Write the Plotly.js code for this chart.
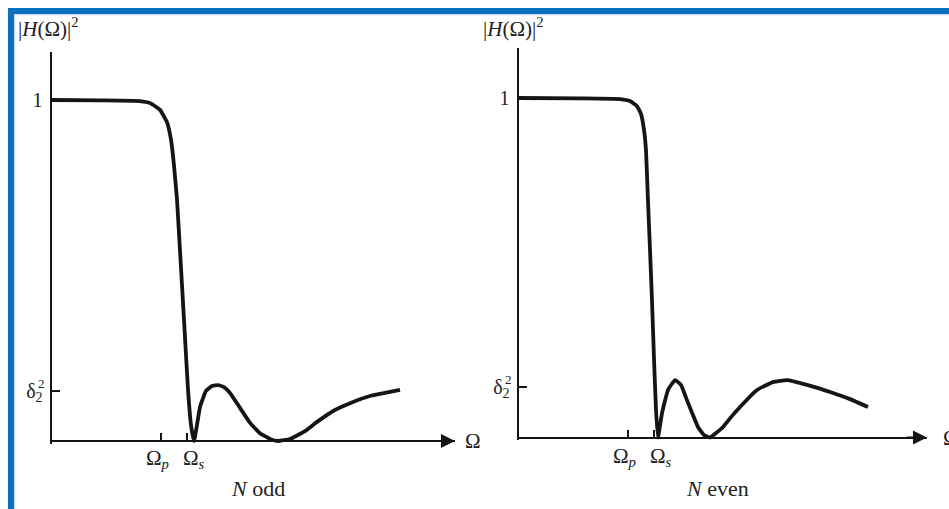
<!DOCTYPE html>
<html>
<head>
<meta charset="utf-8">
<script src="https://cdn.plot.ly/plotly-3.0.1.min.js"></script>
<style>html,body{margin:0;padding:0;background:#fff;}#chart{width:949px;height:509px;}</style>
</head>
<body>
<div id="chart"></div>
<script>
// ---- Data (Omega normalised so that Omega_p = 1; |H|^2 normalised so that passband = 1) ----
const oddOmega = [0, 0.44, 0.807, 0.899, 0.991, 1.055, 1.092, 1.119, 1.147, 1.174, 1.211, 1.248, 1.275, 1.303,
  1.330, 1.358, 1.413, 1.468, 1.523, 1.578, 1.633, 1.725, 1.817, 1.908, 2.0, 2.073, 2.183, 2.321, 2.431, 2.596, 2.734, 2.917, 3.055, 3.193];
const oddGain = [1.0, 0.999, 0.997, 0.991, 0.971, 0.935, 0.883, 0.809, 0.707, 0.560, 0.355, 0.150, 0.047, 0.0,
  0.047, 0.100, 0.147, 0.161, 0.164, 0.158, 0.141, 0.097, 0.053, 0.023, 0.006, 0.0, 0.006, 0.029, 0.056, 0.091, 0.111, 0.132, 0.141, 0.150];

const evenOmega = [0, 0.560, 0.927, 1.018, 1.083, 1.119, 1.147, 1.165, 1.183, 1.202, 1.220, 1.239, 1.257, 1.275,
  1.312, 1.367, 1.431, 1.486, 1.541, 1.596, 1.642, 1.697, 1.752, 1.807, 1.872, 1.945, 2.028, 2.183, 2.330, 2.459, 2.642, 2.881, 3.037, 3.202];
const evenGain = [1.0, 0.999, 0.997, 0.991, 0.976, 0.953, 0.906, 0.847, 0.700, 0.552, 0.405, 0.228, 0.081, 0.0,
  0.072, 0.140, 0.169, 0.155, 0.110, 0.066, 0.031, 0.007, 0.0, 0.013, 0.031, 0.060, 0.090, 0.140, 0.163, 0.169, 0.155, 0.131, 0.113, 0.090];

const xTickVals = [1, 1.235];
const xTickText = ["Ω<sub><i>p</i></sub>", "Ω<sub><i>s</i></sub>"];
const yTickVals = [0.148, 1];
const yTickText = ["δ<sub>2</sub>", "1"];
const deltaSup = "2";
const panelCaptions = ["<i>N</i> odd", "<i>N</i> even"];
const yTitle = "|<i>H</i>(Ω)|<sup>2</sup>";
const xEndLabel = "Ω";

// ---- Layout helpers ----
const W = 949, H = 509;
const px = v => v / W;
const py = v => 1 - v / H;
const INK = '#151515';
const TXT = '#222';
const SERIF = 'Liberation Serif, Times New Roman, serif';

const lineStyle = {color: INK, width: 3.8, shape: 'spline', smoothing: 0.35};

const traces = [
  {x: oddOmega, y: oddGain, xaxis: 'x', yaxis: 'y', mode: 'lines', line: lineStyle, hoverinfo: 'skip', showlegend: false},
  {x: evenOmega, y: evenGain, xaxis: 'x2', yaxis: 'y2', mode: 'lines', line: lineStyle, hoverinfo: 'skip', showlegend: false}
];

function xAx(domain, range, pos) {
  return {
    domain: domain, range: range, anchor: 'free', position: pos,
    showline: true, linecolor: INK, linewidth: 2.2,
    showgrid: false, zeroline: false,
    tickmode: 'array', tickvals: xTickVals, ticktext: xTickText, showticklabels: false,
    ticks: 'inside', ticklen: 7, tickwidth: 2, tickcolor: INK,
    fixedrange: true
  };
}
function yAx(domain, range, anchor) {
  return {
    domain: domain, range: range, anchor: anchor,
    showline: true, linecolor: INK, linewidth: 2.4,
    showgrid: false, zeroline: false,
    tickmode: 'array', tickvals: yTickVals, ticktext: yTickText,
    ticks: 'inside', ticklen: 8, tickwidth: 2, tickcolor: INK,
    ticklabelstandoff: 3,
    tickfont: {family: SERIF, size: 20, color: TXT},
    fixedrange: true
  };
}

const leftX0 = 52, leftX1 = 455, leftY0 = 441, leftTop = 52;
const rightX0 = 519, rightX1 = 927, rightY0 = 437.5, rightTop = 48;
const xs = 109, ysL = 341, ysR = 339.5, pad = 0.008;

function textAnn(x, y, text, size, anchor) {
  return {xref: 'paper', yref: 'paper', x: px(x), y: py(y), text: text, showarrow: false,
    font: {family: SERIF, size: size, color: TXT}, xanchor: anchor, yanchor: 'middle'};
}
function arrowAnn(xa, ya, end) {
  return {xref: xa, yref: ya, axref: xa, ayref: ya, x: end, y: 0, ax: end - 0.2, ay: 0,
    text: '', showarrow: true, arrowhead: 2, arrowsize: 1.4, arrowwidth: 2, arrowcolor: INK, standoff: 0};
}

const layout = {
  width: W, height: H, autosize: false,
  margin: {l: 0, r: 0, t: 0, b: 0},
  paper_bgcolor: '#fff', plot_bgcolor: 'rgba(0,0,0,0)',
  showlegend: false,
  xaxis: xAx([px(leftX0), px(leftX1)], [0, (leftX1 - leftX0) / xs], py(leftY0)),
  yaxis: yAx([py(leftY0 + pad * ysL), py(leftTop)], [-pad, (leftY0 - leftTop) / ysL], 'x'),
  xaxis2: xAx([px(rightX0), px(rightX1)], [0, (rightX1 - rightX0) / xs], py(rightY0)),
  yaxis2: yAx([py(rightY0 + pad * ysR), py(rightTop)], [-pad, (rightY0 - rightTop) / ysR], 'x2'),
  annotations: [
    arrowAnn('x', 'y', (leftX1 - leftX0) / xs),
    arrowAnn('x2', 'y2', (rightX1 - rightX0) / xs),
    textAnn(473, 441, xEndLabel, 21, 'center'),
    textAnn(941, 438, xEndLabel, 21, 'left'),
    textAnn(16, 28, yTitle, 21, 'left'),
    textAnn(481, 27, yTitle, 21, 'left'),
    textAnn(258, 488, panelCaptions[0], 22, 'center'),
    textAnn(717, 488, panelCaptions[1], 22, 'center'),
    // x tick labels (Omega_p, Omega_s), placed like the original typesetting
    textAnn(157, 459, xTickText[0], 21, 'center'),
    textAnn(194, 459, xTickText[1], 21, 'center'),
    textAnn(624, 457, xTickText[0], 21, 'center'),
    textAnn(661, 457, xTickText[1], 21, 'center'),
    // superscript of delta_2^2, stacked above the subscript
    textAnn(41, 383, deltaSup, 13, 'center'),
    textAnn(508, 379, deltaSup, 13, 'center')
  ],
  shapes: [
    {type: 'rect', xref: 'paper', yref: 'paper', x0: px(8), x1: px(14), y0: 0, y1: py(8), fillcolor: '#0a70c0', line: {width: 0}},
    {type: 'rect', xref: 'paper', yref: 'paper', x0: px(8), x1: 1, y0: py(14), y1: py(8), fillcolor: '#0a70c0', line: {width: 0}},
    {type: 'rect', xref: 'paper', yref: 'paper', x0: px(14), x1: 1, y0: py(15.5), y1: py(14), fillcolor: '#cfe1f2', line: {width: 0}},
    {type: 'rect', xref: 'paper', yref: 'paper', x0: px(14), x1: px(15.5), y0: 0, y1: py(14), fillcolor: '#cfe1f2', line: {width: 0}}
  ]
};

Plotly.newPlot('chart', traces, layout, {staticPlot: true, displayModeBar: false});
</script>
</body>
</html>
